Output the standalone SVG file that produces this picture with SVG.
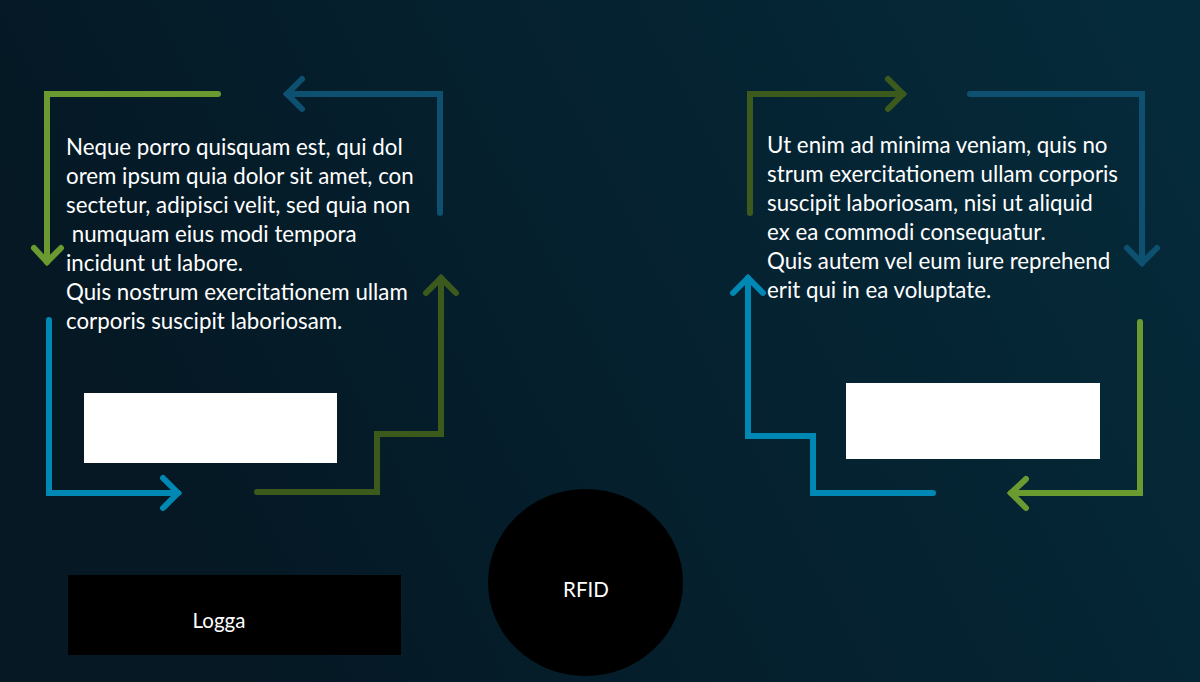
<svg xmlns="http://www.w3.org/2000/svg" width="1200" height="682" viewBox="0 0 1200 682">
<defs>
<linearGradient id="bg" x1="0" y1="0.3" x2="1" y2="0">
<stop offset="0" stop-color="#051824"/>
<stop offset="1" stop-color="#052b3b"/>
</linearGradient>
<style>
.ln{fill:none;stroke-width:6;stroke-linecap:round;stroke-linejoin:miter}
.g1{stroke:#6a9a30}.g2{stroke:#3d5a1d}.b1{stroke:#0088b4}.b2{stroke:#0d5070}
.tx{font-family:Lato,"Open Sans",sans-serif;font-size:22.3px;fill:#ffffff}
.lb{font-family:Lato,"Open Sans",sans-serif;font-size:20.5px;fill:#ffffff;text-anchor:middle}
</style>
</defs>
<rect width="1200" height="682" fill="url(#bg)"/>
<g id="connectors">
<polyline class="ln g1" points="218,94 47,94 47,262"/>
<polyline class="ln g1" points="34,248 47,262 61,248"/>
<polyline class="ln b2" points="440,213 440,94 287,94"/>
<polyline class="ln b2" points="302,79 287,94 302,109"/>
<polyline class="ln b1" points="49,320 49,493 178,493"/>
<polyline class="ln b1" points="163,478 178,493 163,508"/>
<polyline class="ln g2" points="257,492 377,492 377,434 441,434 441,278"/>
<polyline class="ln g2" points="426,293 441,278 456,293"/>
<polyline class="ln g2" points="750,213 750,94 903,94"/>
<polyline class="ln g2" points="888,79 903,94 888,109"/>
<polyline class="ln b2" points="970,94 1142,94 1142,263"/>
<polyline class="ln b2" points="1127,248 1142,263 1157,248"/>
<polyline class="ln b1" points="933,493 813,493 813,436 748,436 748,278"/>
<polyline class="ln b1" points="733,293 748,278 763,293"/>
<polyline class="ln g1" points="1140,322 1140,493 1011,493"/>
<polyline class="ln g1" points="1026,479 1011,493 1026,508"/>
</g>
<g id="text-left">
<text class="tx" x="66" y="155">Neque porro quisquam est, qui dol</text>
<text class="tx" x="66" y="184">orem ipsum quia dolor sit amet, con</text>
<text class="tx" x="66" y="213">sectetur, adipisci velit, sed quia non</text>
<text class="tx" x="66" y="242" xml:space="preserve"> numquam eius modi tempora</text>
<text class="tx" x="66" y="271">incidunt ut labore.</text>
<text class="tx" x="66" y="300">Quis nostrum exercitationem ullam</text>
<text class="tx" x="66" y="329">corporis suscipit laboriosam.</text>
</g>
<g id="text-right">
<text class="tx" x="767" y="153">Ut enim ad minima veniam, quis no</text>
<text class="tx" x="767" y="182">strum exercitationem ullam corporis</text>
<text class="tx" x="767" y="211">suscipit laboriosam, nisi ut aliquid</text>
<text class="tx" x="767" y="240">ex ea commodi consequatur.</text>
<text class="tx" x="767" y="269">Quis autem vel eum iure reprehend</text>
<text class="tx" x="767" y="298">erit qui in ea voluptate.</text>
</g>
<g id="box-left"><rect x="84" y="393" width="253" height="70" fill="#ffffff"/></g>
<g id="box-right"><rect x="846" y="383" width="254" height="76" fill="#ffffff"/></g>
<g id="logga"><rect x="68" y="575" width="333" height="80" fill="#000000"/><text class="lb" x="219" y="628">Logga</text></g>
<g id="rfid"><ellipse cx="585.5" cy="582.5" rx="97.5" ry="93.5" fill="#000000"/><text class="lb" x="586" y="597">RFID</text></g>
</svg>
